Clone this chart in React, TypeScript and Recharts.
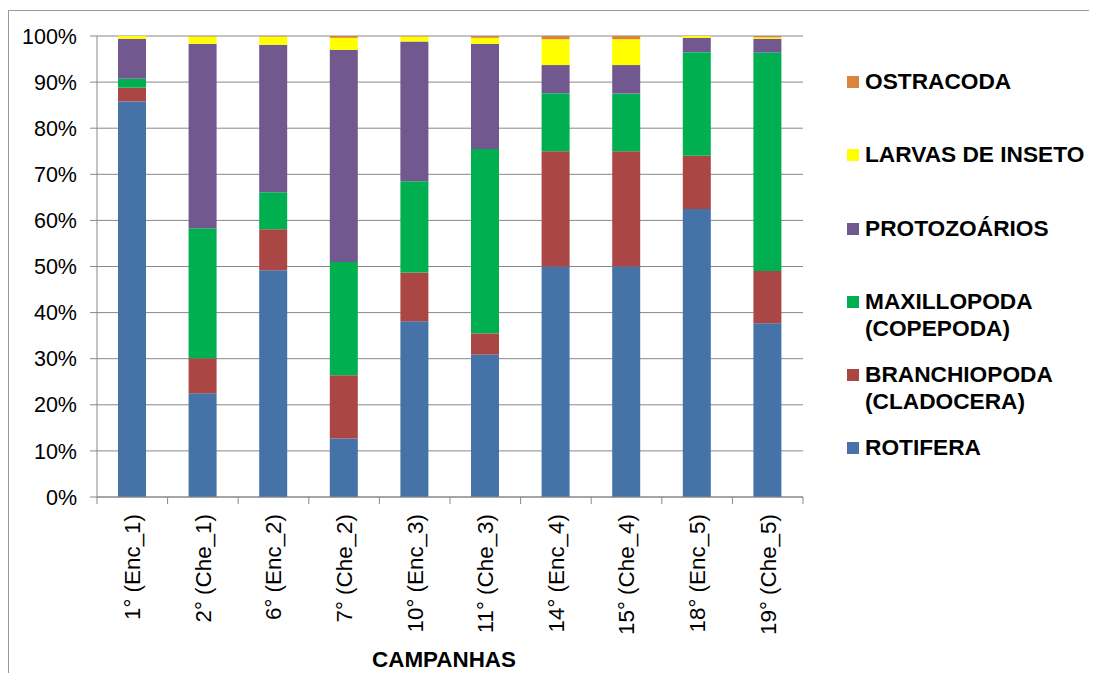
import { BarChart, Bar, XAxis, YAxis, CartesianGrid } from 'recharts';

const categories = [
  '1° (Enc_1)',
  '2° (Che_1)',
  '6° (Enc_2)',
  '7° (Che_2)',
  '10° (Enc_3)',
  '11° (Che_3)',
  '14° (Enc_4)',
  '15° (Che_4)',
  '18° (Enc_5)',
  '19° (Che_5)',
];

// relative abundance (%) per campaign
const rotifera = [85.8, 22.5, 49.2, 12.7, 38.1, 30.9, 50, 50, 62.5, 37.7];
const branchiopoda = [3.0, 7.6, 8.9, 13.7, 10.6, 4.6, 25, 25, 11.5, 11.3];
const maxillopoda = [1.9, 28.2, 8.0, 24.6, 19.8, 40.0, 12.6, 12.5, 22.5, 47.4];
const protozoarios = [8.7, 40.0, 32.0, 46.0, 30.3, 22.8, 6.1, 6.2, 3.1, 3.0];
const larvas = [0.6, 1.6, 1.8, 2.6, 1.1, 1.3, 5.6, 5.6, 0.4, 0.3];
const ostracoda = [0, 0.1, 0.1, 0.4, 0.1, 0.4, 0.7, 0.7, 0, 0.3];

const yTicks = [0, 0.1, 0.2, 0.3, 0.4, 0.5, 0.6, 0.7, 0.8, 0.9, 1];

// bottom to top of each stack
const series = [
  { key: 'rotifera', values: rotifera, color: '#4572A7', label: ['ROTIFERA'] },
  { key: 'branchiopoda', values: branchiopoda, color: '#AA4643', label: ['BRANCHIOPODA', '(CLADOCERA)'] },
  { key: 'maxillopoda', values: maxillopoda, color: '#00B050', label: ['MAXILLOPODA', '(COPEPODA)'] },
  { key: 'protozoarios', values: protozoarios, color: '#71588F', label: ['PROTOZOÁRIOS'] },
  { key: 'larvas', values: larvas, color: '#FFFF00', label: ['LARVAS DE INSETO'] },
  { key: 'ostracoda', values: ostracoda, color: '#DB843D', label: ['OSTRACODA'] },
];

const data = categories.map((name, i) => {
  const row: Record<string, string | number> = { name };
  series.forEach((s) => {
    row[s.key] = s.values[i];
  });
  return row;
});

const CHART_W = 1088;
const CHART_H = 662;
const MARGIN = { top: 25, right: 294, left: 28, bottom: 0 };
const Y_AXIS_W = 60;
const PLOT_W = CHART_W - MARGIN.left - MARGIN.right - Y_AXIS_W;
const HALF_BAND = PLOT_W / categories.length / 2;
const GRID = '#888888';
const FONT = '"Liberation Sans", Arial, sans-serif';

const CategoryTick = ({ x, y, payload, index }: any) => {
  const last = index === categories.length - 1;
  return (
    <g>
      <line x1={x - HALF_BAND} y1={y} x2={x - HALF_BAND} y2={y + 7} stroke={GRID} />
      {last && <line x1={x + HALF_BAND} y1={y} x2={x + HALF_BAND} y2={y + 7} stroke={GRID} />}
      <text
        x={x}
        y={y + 17}
        dy="0.35em"
        textAnchor="end"
        fontSize={22.4}
        fill="#000"
        transform={`rotate(-90, ${x}, ${y + 17})`}
      >
        {payload.value}
      </text>
    </g>
  );
};

// legend lives beside the plot, top entry = top of the stack
const SideLegend = () => (
  <div
    style={{
      position: 'absolute',
      left: 838,
      top: 57,
      fontWeight: 'bold',
      fontSize: 22.7,
      color: '#000',
    }}
  >
    {[...series].reverse().map((s) => (
      <div key={s.key} style={{ height: 73.3, display: 'flex', alignItems: 'flex-start' }}>
        <span
          style={{
            width: 12,
            height: 12,
            background: s.color,
            marginTop: 8,
            marginRight: 6,
            flex: 'none',
          }}
        />
        <div style={{ lineHeight: '27px', whiteSpace: 'nowrap' }}>
          {s.label.map((line) => (
            <div key={line}>{line}</div>
          ))}
        </div>
      </div>
    ))}
  </div>
);

export default function App() {
  return (
    <div
      style={{
        position: 'relative',
        marginTop: 2,
        width: CHART_W,
        height: CHART_H,
        borderLeft: '1px solid #9a9a9a',
        borderTop: '1px solid #9a9a9a',
        fontFamily: FONT,
      }}
    >
      <style>{'body { overflow: hidden; }'}</style>
      <BarChart
        width={CHART_W}
        height={CHART_H}
        data={data}
        margin={MARGIN}
        stackOffset="expand"
        barSize={28}
      >
        <CartesianGrid horizontal vertical={false} stroke={GRID} />
        <XAxis
          dataKey="name"
          height={CHART_H - 486 - MARGIN.bottom}
          interval={0}
          axisLine={{ stroke: GRID }}
          tickLine={false}
          tickSize={0}
          tickMargin={0}
          tick={<CategoryTick />}
          label={{
            value: 'CAMPANHAS',
            position: 'insideBottom',
            offset: 6,
            dx: -6,
            fill: '#000',
            fontSize: 22.4,
            fontWeight: 'bold',
          }}
        />
        <YAxis
          width={Y_AXIS_W}
          domain={[0, 1]}
          ticks={yTicks}
          tickFormatter={(v: number) => `${Math.round(v * 100)}%`}
          axisLine={{ stroke: GRID }}
          tickLine={{ stroke: GRID }}
          tickSize={7}
          tickMargin={13}
          tick={{ fill: '#000', fontSize: 21.5 }}
        />
        {series.map((s) => (
          <Bar key={s.key} dataKey={s.key} stackId="a" fill={s.color} isAnimationActive={false} />
        ))}
      </BarChart>
      <SideLegend />
    </div>
  );
}
